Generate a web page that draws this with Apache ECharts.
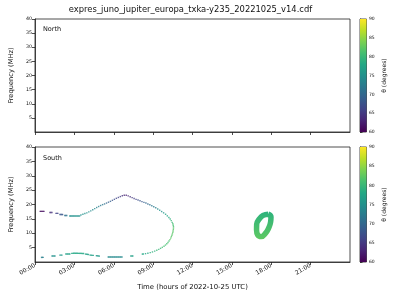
<!DOCTYPE html>
<html><head><meta charset="utf-8">
<script src="https://cdn.jsdelivr.net/npm/echarts@6/dist/echarts.min.js"></script>
<style>html,body{margin:0;padding:0;background:#fff}#c{width:400px;height:300px}</style>
</head><body><div id="c"></div>
<script>
const chartTitle = 'expres_juno_jupiter_europa_txka-y235_20221025_v14.cdf';
const panelNames = ['North', 'South'];
const hourTicks = [0, 3, 6, 9, 12, 15, 18, 21];
const freqTicks = [5, 10, 15, 20, 25, 30, 35, 40];
const thetaTicks = [60, 65, 70, 75, 80, 85, 90];
const xLabel = 'Time (hours of 2022-10-25 UTC)';
const yLabel = 'Frequency (MHz)';
const cbLabel = 'θ (degrees)';

// North hemisphere: no emission
const northPoints = [];

// South hemisphere: [hour, frequency MHz, theta deg]
const southPoints = [
  [0.40,17.6,61],[0.47,17.6,61],[0.54,17.6,61],[0.61,17.6,61],[0.68,17.6,61],
  [1.14,17.2,64],[1.21,17.2,64],[1.29,17.2,64],
  [1.60,16.9,66],[1.67,16.9,66],[1.74,16.9,66],
  [1.90,16.5,68],[1.97,16.5,68],[2.04,16.5,68],[2.10,16.5,68],
  [2.27,16.2,71],[2.34,16.2,71],[2.42,16.2,71],
  [2.65,16.0,75],[2.72,16.0,75],[2.80,16.0,75],[2.87,16.0,75],[2.95,16.0,75],[3.02,16.0,75],
  [3.10,16.0,75],[3.17,16.0,75],[3.25,16.0,75],[3.32,16.0,75],[3.40,16.0,75],
  [3.50,16.35,75],[3.65,16.6,75],[3.80,16.85,75],[3.95,17.1,75],[4.10,17.45,75],
  [4.25,17.8,74],[4.40,18.2,74],[4.55,18.55,74],[4.70,18.95,73],[4.85,19.3,73],
  [5.00,19.65,72],[5.15,19.95,72],[5.30,20.2,71],[5.45,20.5,70],[5.60,20.8,69],
  [5.75,21.1,69],[5.90,21.45,68],[6.05,21.8,67],[6.20,22.15,66],[6.35,22.45,66],
  [6.50,22.75,65],[6.65,23.05,64],[6.80,23.2,63],[6.95,23.2,63],[7.10,23.0,63],
  [7.25,22.7,64],[7.40,22.4,65],[7.55,22.1,65],[7.70,21.8,66],[7.85,21.55,67],
  [8.00,21.3,68],[8.15,21.0,68],[8.30,20.75,69],[8.45,20.5,70],[8.60,20.2,70],
  [8.75,19.9,71],[8.90,19.55,72],[9.05,19.2,72],[9.20,18.85,73],[9.35,18.45,74],
  [9.50,18.0,75],[9.65,17.55,75],[9.80,17.1,76],[9.95,16.6,77],[10.08,16.05,78],
  [10.20,15.5,78],[10.30,14.95,79],[10.38,14.4,80],
  [10.45,13.8,80],[10.50,13.3,81],[10.53,12.8,81],[10.55,12.3,81],[10.55,11.8,82],
  [10.54,11.3,82],[10.52,10.8,82],[10.50,10.3,82],[10.47,9.8,82],[10.43,9.3,82],
  [10.39,8.8,82],[10.34,8.3,82],[10.28,7.8,82],[10.21,7.3,81],[10.13,6.8,81],
  [10.04,6.35,81],[9.94,5.9,81],[9.83,5.5,81],[9.70,5.1,81],[9.57,4.75,80],
  [9.43,4.4,80],[9.28,4.1,80],[9.12,3.8,79],[8.95,3.5,79],[8.78,3.25,79],
  [8.60,3.05,78],[8.42,2.9,78],[8.25,2.8,78],[8.18,2.75,78],
  [7.30,2.1,77],[7.38,2.1,77],[7.45,2.1,77],
  [5.58,1.73,74],[5.65,1.73,74],[5.73,1.73,74],[5.80,1.73,74],[5.88,1.73,74],
  [5.95,1.73,74],[6.03,1.73,74],[6.10,1.73,74],[6.18,1.73,74],[6.25,1.73,74],
  [6.33,1.73,74],[6.40,1.73,74],[6.48,1.73,74],[6.55,1.73,74],[6.63,1.73,74],
  [4.68,2.2,76],[4.75,2.15,76],[4.83,2.1,76],[4.90,2.05,76],
  [4.20,2.4,77],[4.28,2.35,77],[4.36,2.3,77],[4.44,2.3,77],
  [3.85,2.75,77],[3.93,2.7,77],[4.00,2.65,77],[4.07,2.6,77],
  [2.80,3.0,78],[2.88,3.0,78],[2.95,3.02,78],[3.03,3.02,78],[3.10,3.02,78],
  [3.18,3.02,78],[3.25,3.02,78],[3.33,3.0,78],[3.40,3.0,78],[3.48,3.0,78],
  [3.55,2.98,78],[3.63,2.95,78],[3.70,2.95,78],
  [2.35,2.8,77],[2.43,2.8,77],[2.50,2.8,77],[2.58,2.8,77],[2.65,2.8,77],
  [1.90,2.4,76],[1.98,2.4,76],[2.05,2.4,76],
  [1.30,2.1,75],[1.37,2.1,75],[1.45,2.1,75],[1.52,2.1,75],
  [0.50,1.6,73],[0.56,1.6,73],[0.62,1.6,73]
];

// South emission ring near 17 h (centre line)
const ringHours = [17.76, 17.98, 17.95, 17.80, 17.57, 17.23, 16.97, 16.88, 16.89, 17.08, 17.38, 17.76];
const ringFreqs = [16.65, 15.61, 13.87, 11.79, 10.06, 8.84, 9.37, 11.10, 13.18, 14.91, 16.20, 16.65];

const thetaRange = [60, 90];
const viridis = ['#440154','#482475','#414487','#355f8d','#2a788e','#21918c','#22a884','#44bf70','#7ad151','#bddf26','#fde725'];

const FONT = 'DejaVu Sans';
const chart = echarts.init(document.getElementById('c'), null, {renderer: 'canvas'});

const grids = [
  {left: 31, top: 19, width: 319, height: 113},
  {left: 31, top: 147, width: 319, height: 115},
  {left: 360, top: 19, width: 6.5, height: 113},
  {left: 360, top: 147, width: 6.5, height: 115}
].map(g => Object.assign({show: true, borderColor: '#222', borderWidth: 0.8, backgroundColor: 'transparent', containLabel: false}, g));

function timeX(i, showLabels) {
  return {
    type: 'value', gridIndex: i, min: 0, max: 24, interval: 3,
    axisLine: {show: true, lineStyle: {color: '#222', width: 0.8}},
    axisTick: {show: true, length: 3, lineStyle: {color: '#222', width: 0.8}, customValues: hourTicks},
    axisLabel: {show: showLabels, customValues: hourTicks, rotate: 30, fontSize: 6, fontFamily: FONT, color: '#111', margin: 3,
      formatter: v => String(v).padStart(2, '0') + ':00'},
    splitLine: {show: false},
    name: showLabels ? xLabel : '', nameLocation: 'middle', nameGap: 21.5,
    nameTextStyle: {fontSize: 6.9, fontFamily: FONT, color: '#111'}
  };
}
function freqY(i) {
  return {
    type: 'value', gridIndex: i, min: 0, max: 40, interval: 5,
    axisLine: {show: true, lineStyle: {color: '#222', width: 0.8}},
    axisTick: {show: true, length: 3, lineStyle: {color: '#222', width: 0.8}, customValues: freqTicks},
    axisLabel: {customValues: freqTicks, fontSize: 4.8, fontFamily: FONT, color: '#111', margin: 3},
    splitLine: {show: false},
    name: yLabel, nameLocation: 'middle', nameRotate: 90, nameGap: 17,
    nameTextStyle: {fontSize: 6.7, fontFamily: FONT, color: '#111'}
  };
}
function cbX(i) {
  return {type: 'value', gridIndex: i, min: 0, max: 1, show: false};
}
function cbY(i) {
  return {
    type: 'value', gridIndex: i, position: 'right', min: thetaRange[0], max: thetaRange[1], interval: 5,
    axisLine: {show: true, lineStyle: {color: '#222', width: 0.8}},
    axisTick: {show: true, length: 2.5, lineStyle: {color: '#222', width: 0.8}, customValues: thetaTicks},
    axisLabel: {customValues: thetaTicks, fontSize: 4.5, fontFamily: FONT, color: '#111', margin: 2.5},
    splitLine: {show: false},
    name: cbLabel, nameLocation: 'middle', nameRotate: 90, nameGap: 15,
    nameTextStyle: {fontSize: 6, fontFamily: FONT, color: '#111'}
  };
}

function colorbarSeries(i) {
  return {
    type: 'custom', xAxisIndex: i, yAxisIndex: i, silent: true,
    data: [[0, thetaRange[0], 1, thetaRange[1]]],
    encode: {x: [0, 2], y: [1, 3]},
    renderItem(params, api) {
      const p0 = api.coord([api.value(0), api.value(1)]);
      const p1 = api.coord([api.value(2), api.value(3)]);
      return {
        type: 'rect',
        shape: {x: p0[0], y: p1[1], width: p1[0] - p0[0], height: p0[1] - p1[1]},
        style: {fill: new echarts.graphic.LinearGradient(0, 1, 0, 0,
          viridis.map((c, k) => ({offset: k / (viridis.length - 1), color: c})))}
      };
    }
  };
}

const option = {
  animation: false,
  backgroundColor: '#fff',
  textStyle: {fontFamily: FONT},
  grid: grids,
  xAxis: [timeX(0, false), timeX(1, true), cbX(2), cbX(3)],
  yAxis: [freqY(0), freqY(1), cbY(2), cbY(3)],
  visualMap: [{
    type: 'continuous', show: false, dimension: 2, seriesIndex: [0, 1],
    min: thetaRange[0], max: thetaRange[1], inRange: {color: viridis}
  }],
  graphic: [
    {type: 'text', x: 190.5, y: 6, style: {text: chartTitle, fontSize: 8.4, fontFamily: FONT, fill: '#111', align: 'center', textAlign: 'center', verticalAlign: 'top'}},
    {type: 'text', left: 43, top: 26, style: {text: panelNames[0], fontSize: 6.5, fontFamily: FONT, fill: '#111'}},
    {type: 'text', left: 43, top: 155, style: {text: panelNames[1], fontSize: 6.5, fontFamily: FONT, fill: '#111'}}
  ],
  series: [
    {type: 'scatter', xAxisIndex: 0, yAxisIndex: 0, data: northPoints, symbol: 'rect', symbolSize: 1.4},
    {type: 'scatter', xAxisIndex: 1, yAxisIndex: 1, data: southPoints, symbol: 'rect', symbolSize: 1.4, silent: true},
    {type: 'line', xAxisIndex: 1, yAxisIndex: 1, data: ringHours.map((h, k) => [h, ringFreqs[k]]),
      smooth: 0.5, showSymbol: false, symbol: 'none', silent: true,
      lineStyle: {width: 5.5, color: new echarts.graphic.LinearGradient(0, 0, 0, 1, [{offset: 0, color: '#2db27d'}, {offset: 1, color: '#5ec962'}])}},
    colorbarSeries(2),
    colorbarSeries(3)
  ]
};
chart.setOption(option);
</script></body></html>
